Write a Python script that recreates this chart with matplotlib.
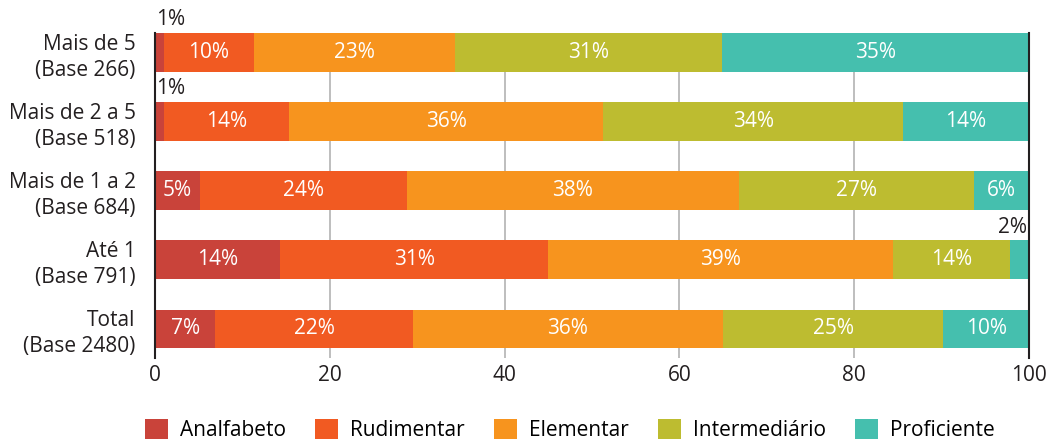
import matplotlib
matplotlib.use("Agg")
import matplotlib.pyplot as plt
from matplotlib.patches import Patch

plt.rcParams['font.family'] = ['Open Sans', 'DejaVu Sans']

categories = ["Mais de 5\n(Base 266)", "Mais de 2 a 5\n(Base 518)", "Mais de 1 a 2\n(Base 684)",
              "Até 1\n(Base 791)", "Total\n(Base 2480)"]
series_names = ["Analfabeto", "Rudimentar", "Elementar", "Intermediário", "Proficiente"]
analfabeto = [1.0, 1.0, 5.1, 14.3, 6.9]
rudimentar = [10.3, 14.3, 23.7, 30.7, 22.6]
elementar = [23.0, 36.0, 38.0, 39.4, 35.5]
intermediario = [30.6, 34.3, 26.9, 13.4, 25.2]
proficiente = [35.1, 14.4, 6.3, 2.2, 9.8]
labels = [
    ["1%", "1%", "5%", "14%", "7%"],
    ["10%", "14%", "24%", "31%", "22%"],
    ["23%", "36%", "38%", "39%", "36%"],
    ["31%", "34%", "27%", "14%", "25%"],
    ["35%", "14%", "6%", "2%", "10%"],
]
colors = ["#C9433A", "#F15A22", "#F7941E", "#BDBC30", "#45BFAE"]
xticks = [0, 20, 40, 60, 80, 100]

series = [analfabeto, rudimentar, elementar, intermediario, proficiente]
FS = 15

fig = plt.figure(figsize=(10.49, 4.40), dpi=100)
ax = fig.add_axes([155/1049, (440-358)/440, (1029-155)/1049, (358-33)/440])

ypos = list(range(len(categories)))
bh = 0.56
left = [0.0]*len(categories)
for si, (vals, col) in enumerate(zip(series, colors)):
    ax.barh(ypos, vals, left=left, height=bh, color=col, zorder=3, label=series_names[si])
    for i, v in enumerate(vals):
        lab = labels[si][i]
        if v < 3:
            if si == 0:
                ax.text(left[i] + 0.1, ypos[i] - bh/2 - 0.04, lab, ha='left', va='bottom',
                        fontsize=FS, color='#231f20')
            else:
                ax.text(100 - 0.2, ypos[i] - bh/2 - 0.04, lab, ha='right', va='bottom',
                        fontsize=FS, color='#231f20')
        else:
            ax.text(left[i] + v/2, ypos[i], lab, ha='center', va='center',
                    fontsize=FS, color='white', zorder=4)
    left = [l + v for l, v in zip(left, vals)]

ax.set_xlim(0, 100)
ax.set_ylim(4.42, -0.28)
ax.set_xticks(xticks)
ax.set_xticklabels([str(t) for t in xticks], fontsize=FS, color='#231f20')
ax.set_yticks(ypos)
ax.set_yticklabels(categories, fontsize=FS, color='#231f20', linespacing=1.3)
ax.tick_params(axis='both', length=0)
ax.tick_params(axis='x', pad=5)
ax.tick_params(axis='y', pad=14)
ax.xaxis.grid(True, color='#b3b3b3', linewidth=1.2, zorder=0)
for s in ['top', 'bottom']:
    ax.spines[s].set_visible(False)
for s in ['left', 'right']:
    ax.spines[s].set_color('#231f20')
    ax.spines[s].set_linewidth(1.5)
    ax.spines[s].set_zorder(5)

handles = [Patch(facecolor=c, edgecolor='none') for c in colors]
fig.legend(handles, series_names, loc='center', bbox_to_anchor=(0.543, 1 - 430/440), ncol=5,
           frameon=False, fontsize=FS, handlelength=1.1, handleheight=1.1,
           columnspacing=1.4, handletextpad=0.58, borderpad=0)

fig.savefig("out.png", dpi=100)
